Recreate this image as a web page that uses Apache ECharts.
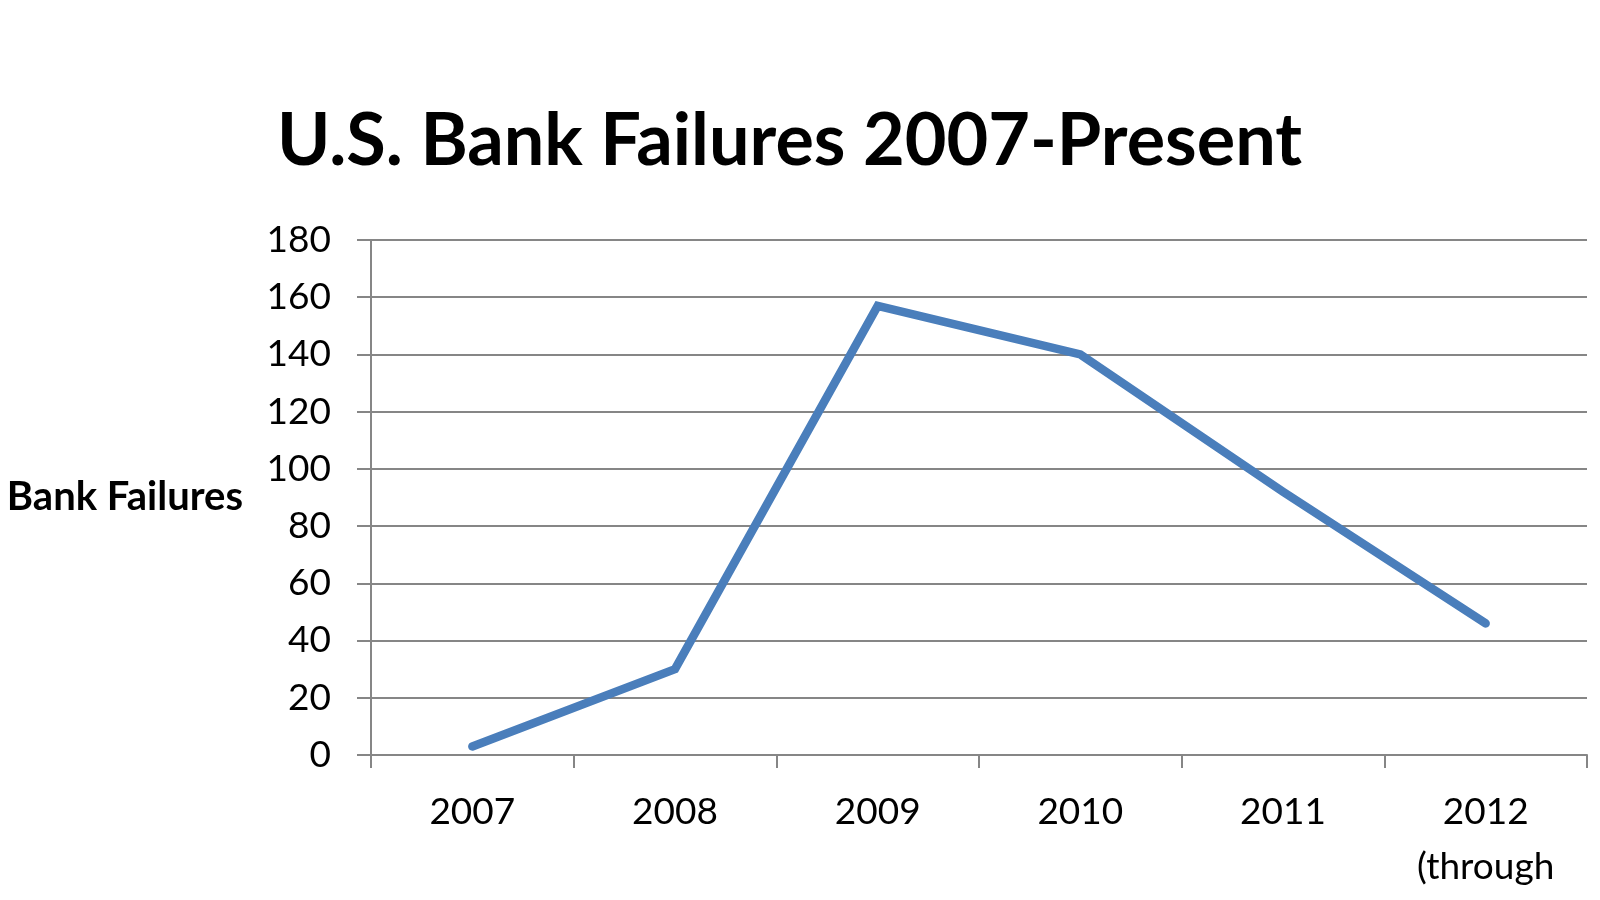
<!DOCTYPE html>
<html>
<head>
<meta charset="utf-8">
<script src="https://cdn.jsdelivr.net/npm/echarts@6/dist/echarts.min.js"></script>
<style>
  html, body { margin: 0; padding: 0; background: #fff; }
  #chart { width: 1600px; height: 900px; }
</style>
</head>
<body>
<div id="chart"></div>
<script>
const titleText = 'U.S. Bank Failures 2007-Present';
const yAxisName = 'Bank Failures';
const categories = ['2007', '2008', '2009', '2010', '2011', '2012\n(through'];
const failures = [3, 30, 157, 140, 92, 46];
const yMin = 0, yMax = 180, yInterval = 20;

const chart = echarts.init(document.getElementById('chart'));
const gridColor = '#868686';
chart.setOption({
  animation: false,
  backgroundColor: '#ffffff',
  title: {
    text: titleText,
    left: 272,
    top: 101,
    textStyle: { fontFamily: 'Lato', fontWeight: 'bold', fontSize: 72, color: '#000' }
  },
  grid: { left: 371, right: 13, top: 240, bottom: 145, containLabel: false },
  xAxis: {
    type: 'category',
    data: categories,
    boundaryGap: true,
    axisLine: { show: true, lineStyle: { color: gridColor, width: 2 } },
    axisTick: { show: true, length: 13, alignWithLabel: false, lineStyle: { color: gridColor, width: 2 } },
    axisLabel: { fontFamily: 'Lato', fontSize: 37, color: '#000', margin: 30, lineHeight: 55, interval: 0 },
    splitLine: { show: false }
  },
  yAxis: {
    type: 'value',
    min: yMin, max: yMax, interval: yInterval,
    name: yAxisName,
    nameLocation: 'middle',
    nameRotate: 0,
    nameGap: 128,
    nameTextStyle: { fontFamily: 'Lato', fontWeight: 'bold', fontSize: 40, color: '#000', align: 'right', verticalAlign: 'middle', padding: [6, 0, 0, 0] },
    axisLine: { show: true, lineStyle: { color: gridColor, width: 2 } },
    axisTick: { show: true, length: 14, lineStyle: { color: gridColor, width: 2 } },
    axisLabel: { fontFamily: 'Lato', fontSize: 37, color: '#000', margin: 40 },
    splitLine: { show: true, lineStyle: { color: gridColor, width: 2 } }
  },
  series: [{
    type: 'line',
    data: failures,
    symbol: 'none',
    showSymbol: false,
    lineStyle: { color: '#4a7ebb', width: 8.5, cap: 'round', join: 'miter' },
    itemStyle: { color: '#4a7ebb' }
  }]
});
</script>
</body>
</html>
